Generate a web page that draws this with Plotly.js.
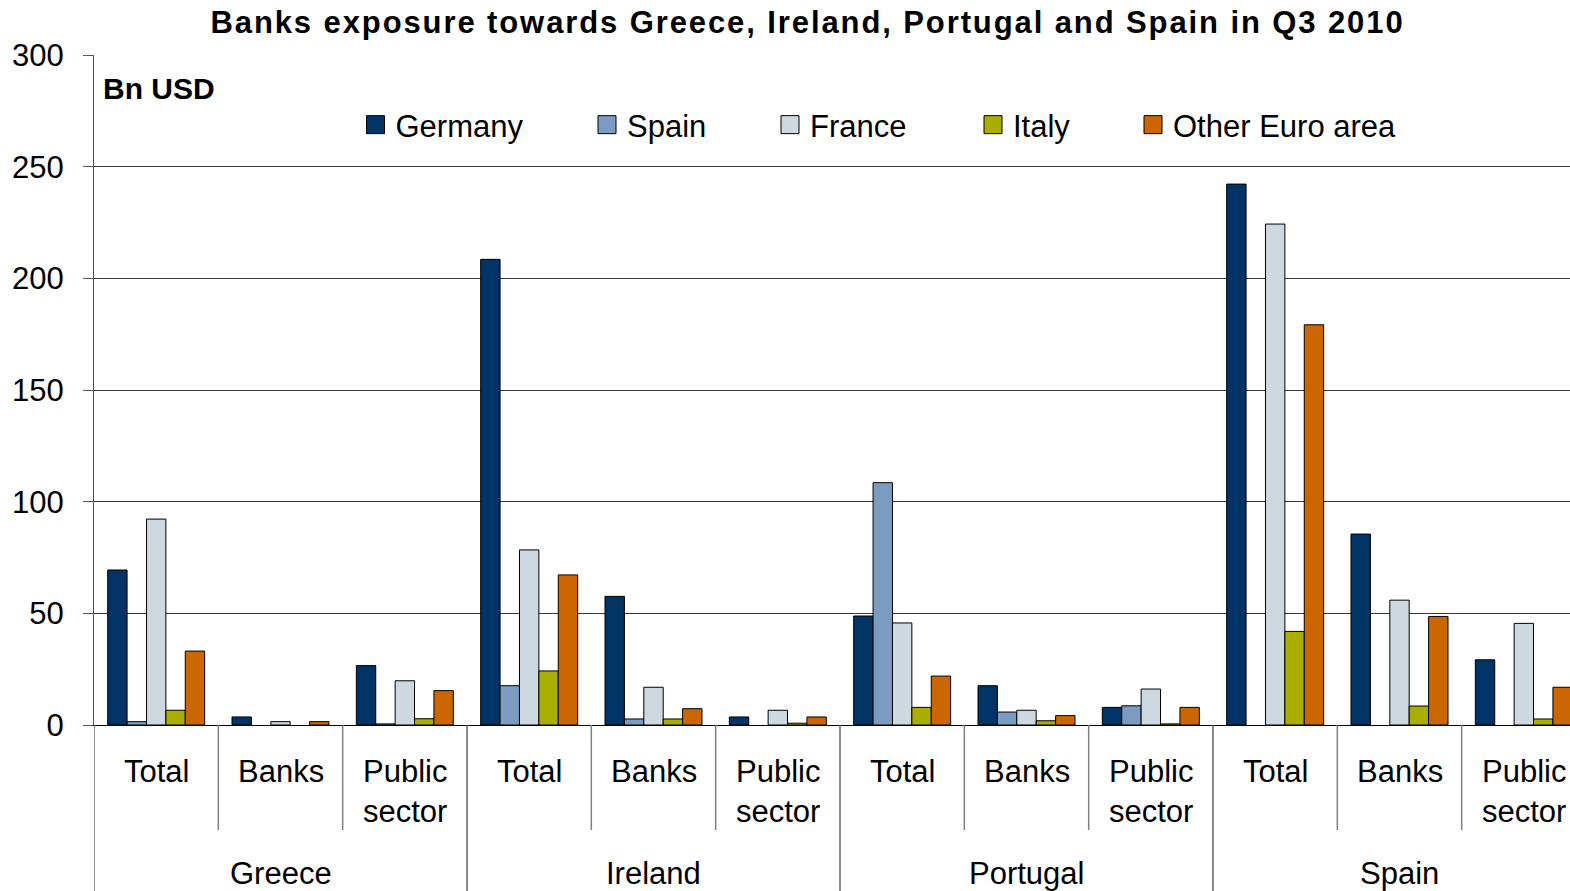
<!DOCTYPE html>
<html>
<head>
<meta charset="utf-8">
<script src="https://cdn.plot.ly/plotly-3.0.1.min.js"></script>
<style>
  html, body { margin: 0; padding: 0; overflow: hidden; background: #fff; }
  #chart { width: 1600px; height: 891px; }
  .gtitle { letter-spacing: 1.9px; }
</style>
</head>
<body>
<div id="chart"></div>
<script>
// ---- data (Bn USD) ----
const countries = ['Greece', 'Ireland', 'Portugal', 'Spain'];
const sectors = ['Total', 'Banks', 'Public sector'];
const sectorLabels = ['Total', 'Banks', 'Public<br>sector'];
const seriesNames = ['Germany', 'Spain', 'France', 'Italy', 'Other Euro area'];
const germany = [69.4, 3.6, 26.6, 208.5, 57.6, 3.6, 48.8, 17.6, 7.9, 242.2, 85.5, 29.2];
const spain   = [1.5, null, 0.5, 17.6, 2.7, null, 108.5, 5.8, 8.6, null, null, null];
const france  = [92.2, 1.5, 19.8, 78.4, 16.9, 6.6, 45.7, 6.6, 16.1, 224.3, 55.9, 45.5];
const italy   = [6.6, null, 2.8, 24.2, 2.7, 0.8, 7.9, 1.9, 0.5, 41.9, 8.5, 2.7];
const otherEA = [33.1, 1.5, 15.4, 67.2, 7.3, 3.6, 21.9, 4.2, 7.9, 179.2, 48.6, 16.9];
const yTicks = [0, 50, 100, 150, 200, 250, 300];

// ---- styles ----
const colors = ['#003366', '#7b9cc0', '#cdd8e0', '#a9ae00', '#cc6600'];
const FONT = 'Liberation Sans, Arial, sans-serif';
const W = 1600, H = 891;
const M = { l: 94, r: 14, t: 55, b: 166 };
const plotW = W - M.l - M.r, plotH = H - M.t - M.b;
const px2x = p => (p - M.l) / plotW;
const py2y = p => (H - M.b - p) / plotH;
// legend symbol centres (px) and vertical centre
const legendCentres = [375.5, 607, 790, 993, 1153];
const legendY = 125;

const xcats = [];
countries.forEach(c => sectors.forEach(s => xcats.push(c + ' ' + s)));
const values = [germany, spain, france, italy, otherEA];

const traces = values.map((v, i) => ({
  type: 'bar',
  name: seriesNames[i],
  x: xcats,
  y: v,
  marker: { color: colors[i], line: { color: '#000', width: 1 } },
  legend: i === 0 ? 'legend' : 'legend' + (i + 1),
  hoverinfo: 'x+y+name'
}));

const layout = {
  width: W, height: H,
  margin: M,
  paper_bgcolor: '#fff', plot_bgcolor: '#fff',
  font: { family: FONT, size: 31, color: '#000' },
  barmode: 'group',
  bargap: 0.22,
  bargroupgap: 0,
  title: {
    text: 'Banks exposure towards Greece, Ireland, Portugal and Spain in Q3 2010',
    font: { family: FONT, size: 31, weight: 700, color: '#000' },
    xref: 'container', x: 807.5 / W, xanchor: 'center',
    yref: 'container', y: (H - 22) / H, yanchor: 'middle'
  },
  xaxis: {
    type: 'category',
    range: [-0.5, xcats.length - 0.5],
    showticklabels: false,
    ticks: '',
    showgrid: false,
    showline: true, linecolor: '#000', linewidth: 1,
    zeroline: false, fixedrange: true
  },
  yaxis: {
    range: [0, 300],
    tickvals: yTicks,
    ticktext: yTicks.map(String),
    ticks: 'outside', ticklen: 10, tickcolor: '#555', tickwidth: 1,
    ticklabelstandoff: 13,
    tickfont: { family: FONT, size: 31, color: '#000' },
    showgrid: true, gridcolor: '#3a3a3a', gridwidth: 1,
    showline: true, linecolor: '#555', linewidth: 1,
    zeroline: false, fixedrange: true
  },
  showlegend: true,
  annotations: [],
  shapes: []
};

// legends, one per series, placed like the original
seriesNames.forEach((n, i) => {
  const key = i === 0 ? 'legend' : 'legend' + (i + 1);
  layout[key] = {
    orientation: 'h',
    xref: 'paper', yref: 'paper',
    x: px2x(legendCentres[i] - 20), xanchor: 'left',
    y: py2y(legendY), yanchor: 'middle',
    bgcolor: 'rgba(0,0,0,0)', borderwidth: 0,
    font: { family: FONT, size: 31, color: '#000' }
  };
});

// "Bn USD"
layout.annotations.push({
  text: '<b>Bn USD</b>', showarrow: false,
  xref: 'paper', yref: 'paper',
  x: px2x(101), xanchor: 'left',
  y: py2y(88), yanchor: 'middle',
  font: { family: FONT, size: 30, color: '#000' }
});

// sector labels and country labels
xcats.forEach((c, i) => {
  layout.annotations.push({
    text: sectorLabels[i % sectors.length], showarrow: false,
    xref: 'x', yref: 'paper', x: i, y: 0,
    xanchor: 'center', yanchor: 'top', yshift: -27,
    font: { family: FONT, size: 31, color: '#000' }
  });
});
countries.forEach((c, k) => {
  layout.annotations.push({
    text: c, showarrow: false,
    xref: 'x', yref: 'paper',
    x: k * sectors.length + (sectors.length - 1) / 2, y: 0,
    xanchor: 'center', yanchor: 'middle', yshift: -148,
    font: { family: FONT, size: 31, color: '#000' }
  });
});

// separators below the axis
for (let i = 0; i <= xcats.length; i++) {
  const outer = i % sectors.length === 0;
  layout.shapes.push({
    type: 'line', xref: 'x', yref: 'paper',
    x0: i - 0.5, x1: i - 0.5,
    y0: 0, y1: outer ? -M.b / plotH : -(830 - (H - M.b)) / plotH,
    line: { color: outer ? '#666' : '#808080', width: 1.5 }
  });
}

Plotly.newPlot('chart', traces, layout, { displayModeBar: false, staticPlot: false }).then(() => {
  document.querySelectorAll('.legendpoints path').forEach(p => {
    p.setAttribute('d', 'M9,9H-9V-9H9Z');
  });
});
</script>
</body>
</html>
